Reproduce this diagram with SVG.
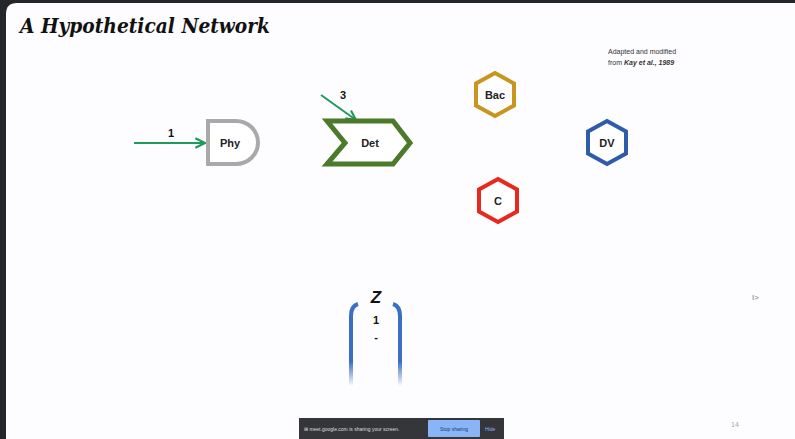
<svg xmlns="http://www.w3.org/2000/svg" width="795" height="439" viewBox="0 0 795 439">
<defs>
<style>
.lbl{font-family:"Liberation Sans",Arial,sans-serif;font-size:11px;font-weight:bold;fill:#222;text-anchor:middle;dominant-baseline:central}
.num{font-family:"Liberation Sans",Arial,sans-serif;font-size:11px;font-weight:bold;fill:#111;text-anchor:middle}
.edge{stroke:#1f9a5c;stroke-width:2;fill:none}
.hex{fill:#fff;stroke-width:4;stroke-linejoin:miter}
.small{font-family:"Liberation Sans",Arial,sans-serif;font-size:7px;fill:#333}
</style>
<marker id="ah" viewBox="0 0 10 10" refX="9" refY="5" markerWidth="6" markerHeight="6" orient="auto">
<path d="M1,1 L9,5 L1,9" fill="none" stroke="#1f9a5c" stroke-width="1.8"/>
</marker>
<linearGradient id="fade" x1="0" y1="0" x2="0" y2="1">
<stop offset="0" stop-color="#3a6fc4"/>
<stop offset="0.7" stop-color="#3a6fc4"/>
<stop offset="1" stop-color="#3a6fc4" stop-opacity="0"/>
</linearGradient>
</defs>
<rect width="795" height="439" fill="#23262b"/>
<path d="M6,14 Q6,3 17,3 L795,3 L795,439 L6,439 Z" fill="#fdfcfe"/>
<text x="20" y="33" font-family="'DejaVu Serif',serif" font-style="italic" font-weight="bold" font-size="20" fill="#111" textLength="250" lengthAdjust="spacingAndGlyphs">A Hypothetical Network</text>
<text x="608" y="54" class="small">Adapted and modified</text>
<text x="608" y="65" class="small">from <tspan font-weight="bold" font-style="italic">Kay et al., 1989</tspan></text>
<g id="connectors">
<line class="edge" x1="134" y1="143" x2="205" y2="143" marker-end="url(#ah)"/>
<text class="num" x="171" y="137">1</text>
<line class="edge" x1="321" y1="95" x2="356" y2="120" marker-end="url(#ah)"/>
<text class="num" x="343" y="99">3</text>
</g>
<g id="Phy">
<path d="M208,121 L236,121 A22,21.5 0 0 1 236,164 L208,164 Z" fill="#fff" stroke="#a9a9a9" stroke-width="4"/>
<text class="lbl" x="230" y="143">Phy</text>
</g>
<g id="Det">
<path d="M327,121 L393,121 L410,143 L393,164 L327,164 L345,143 Z" fill="#fff" stroke="#4a7a2a" stroke-width="5"/>
<text class="lbl" x="370" y="143">Det</text>
</g>
<g id="Bac">
<polygon class="hex" stroke="#c8961e" points="495,73 514,83.5 514,105.5 495,116 476,105.5 476,83.5"/>
<text class="lbl" x="495" y="95" font-size="10">Bac</text>
</g>
<g id="DV">
<polygon class="hex" stroke="#2e5ca8" points="607,121 626,131.5 626,153.5 607,164 588,153.5 588,131.5"/>
<text class="lbl" x="607" y="143">DV</text>
</g>
<g id="C">
<polygon class="hex" stroke="#e8281e" points="498,179 517,189.5 517,211.5 498,222 479,211.5 479,189.5"/>
<text class="lbl" x="498" y="201">C</text>
</g>
<g id="Z">
<text x="376" y="303" font-family="'Liberation Sans',Arial,sans-serif" font-size="17" font-weight="bold" font-style="italic" fill="#111" text-anchor="middle">Z</text>
<text x="376" y="324" class="num" font-weight="normal">1</text>
<text x="376" y="341" class="num" font-weight="normal">-</text>
<path d="M358,304 Q351,306 351,316 L351,386" fill="none" stroke="url(#fade)" stroke-width="4"/>
<path d="M393,304 Q400,306 400,316 L400,386" fill="none" stroke="url(#fade)" stroke-width="4"/>
</g>
<text x="752" y="300" font-family="'Liberation Sans',Arial,sans-serif" font-size="8" fill="#777">I&gt;</text>
<text x="731" y="427" font-family="'Liberation Sans',Arial,sans-serif" font-size="7" fill="#aaa">14</text>
<g id="sharebar">
<rect x="299" y="418" width="205" height="21" fill="#35363a"/>
<text x="304" y="431" font-family="'Liberation Sans',Arial,sans-serif" font-size="5" fill="#ddd">⊞  meet.google.com is sharing your screen.</text>
<rect x="428" y="420" width="52" height="17" rx="1" fill="#8ab4f8"/>
<text x="454" y="431" font-family="'Liberation Sans',Arial,sans-serif" font-size="5" fill="#1a3a6a" text-anchor="middle">Stop sharing</text>
<text x="485" y="431" font-family="'Liberation Sans',Arial,sans-serif" font-size="5" fill="#8ab4f8">Hide</text>
</g>
</svg>
